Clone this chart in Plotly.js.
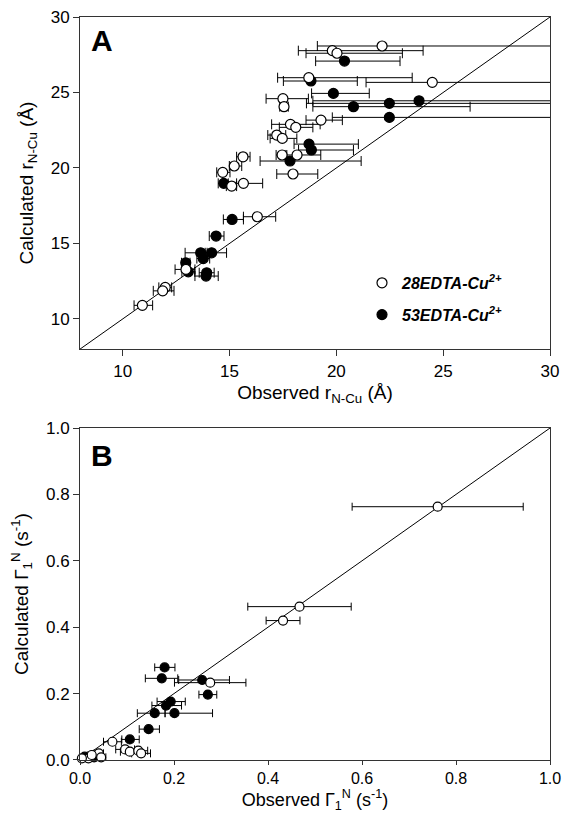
<!DOCTYPE html>
<html>
<head>
<meta charset="utf-8">
<script src="https://cdn.plot.ly/plotly-3.0.1.min.js"></script>
<style>html,body{margin:0;padding:0;background:#fff;}#chart{width:567px;height:813px;}</style>
</head>
<body>
<div id="chart"></div>
<script>
// ---------- Panel A: distances (Å) ----------
const aIdentity = [8, 30];
const aOpenX = [22.14, 19.81, 20.03, 18.71, 24.49, 17.50, 17.55, 19.28, 17.85, 18.10, 17.21, 17.47, 17.46, 18.16, 17.97, 15.63, 15.22, 14.68, 15.10, 15.65, 16.30, 12.96, 11.99, 11.87, 10.92];
const aOpenY = [28.08, 27.77, 27.60, 25.98, 25.67, 24.59, 24.06, 23.17, 22.89, 22.69, 22.18, 21.96, 20.86, 20.86, 19.60, 20.74, 20.13, 19.71, 18.80, 18.98, 16.77, 13.28, 12.09, 11.86, 10.90];
const aOpenErrMinus = [3.03, 1.59, 1.45, 1.46, 3.10, 0.79, 0.20, 0.70, 0.88, 0.77, 0.42, 0.57, 0.28, 0.56, 0.76, 0.30, 0.23, 0.28, 0.25, 0.32, 0.65, 0.51, 0.30, 0.44, 0.39];
const aOpenErrPlus  = [8.00, 4.25, 3.06, 4.84, 8.00, 1.19, 0.20, 1.00, 1.39, 0.80, 0.42, 0.68, 0.22, 1.11, 1.16, 0.33, 0.35, 0.34, 0.23, 0.90, 0.86, 0.42, 0.30, 0.53, 0.48];

const aFillX = [20.38, 18.81, 19.86, 23.87, 22.48, 20.80, 22.48, 18.72, 18.83, 17.83, 14.73, 15.12, 14.37, 13.65, 14.16, 13.77, 12.95, 13.07, 13.93, 13.90];
const aFillY = [27.08, 25.76, 24.94, 24.45, 24.28, 24.06, 23.35, 21.58, 21.19, 20.46, 18.98, 16.59, 15.49, 14.38, 14.38, 14.00, 13.72, 13.12, 13.06, 12.84];
const aFillErrMinus = [1.35, 1.29, 1.02, 4.97, 3.88, 1.90, 2.67, 0.70, 0.60, 1.40, 0.26, 0.41, 0.32, 0.73, 0.30, 0.30, 0.20, 0.30, 0.35, 0.52];
const aFillErrPlus  = [2.60, 2.17, 1.68, 8.00, 8.00, 5.46, 8.00, 2.31, 1.97, 3.33, 0.21, 0.53, 0.37, 0.30, 0.70, 0.30, 0.20, 0.30, 0.35, 0.57];

// ---------- Panel B: relaxation rates (s^-1) ----------
const bIdentity = [0, 1];
const bOpenX = [0.761, 0.467, 0.432, 0.277, 0.069, 0.096, 0.106, 0.124, 0.130, 0.040, 0.045, 0.018, 0.004, 0.025];
const bOpenY = [0.763, 0.462, 0.420, 0.233, 0.055, 0.032, 0.025, 0.028, 0.020, 0.020, 0.008, 0.005, 0.005, 0.015];
const bOpenErr = [0.182, 0.110, 0.036, 0.076, 0.019, 0.020, 0.020, 0.020, 0.020, 0.010, 0.010, 0.008, 0.005, 0.008];

const bFillX = [0.180, 0.174, 0.260, 0.272, 0.193, 0.183, 0.159, 0.201, 0.146, 0.106, 0.010, 0.030];
const bFillY = [0.279, 0.246, 0.241, 0.197, 0.176, 0.164, 0.141, 0.141, 0.093, 0.062, 0.010, 0.008];
const bFillErrMinus = [0.021, 0.035, 0.050, 0.019, 0.029, 0.030, 0.037, 0.020, 0.020, 0.017, 0.005, 0.006];
const bFillErrPlus  = [0.022, 0.034, 0.058, 0.019, 0.031, 0.033, 0.022, 0.081, 0.023, 0.020, 0.005, 0.006];

const seriesNames = ['<b><i>28EDTA-Cu<sup>2+</sup></i></b>', '<b><i>53EDTA-Cu<sup>2+</sup></i></b>'];

const FONT = 'Liberation Sans, Arial, sans-serif';
const openMarkerA = {symbol: 'circle', size: 10, color: '#ffffff', line: {color: '#000', width: 1.2}};
const fillMarkerA = {symbol: 'circle', size: 10, color: '#000000', line: {color: '#000', width: 1.2}};
const openMarkerB = {symbol: 'circle', size: 9, color: '#ffffff', line: {color: '#000', width: 1.2}};
const fillMarkerB = {symbol: 'circle', size: 9, color: '#000000', line: {color: '#000', width: 1.2}};
const errStyleA = {color: '#000', thickness: 1, width: 5};
const errStyleB = {color: '#000', thickness: 1, width: 4};

const traces = [
  {x: aIdentity, y: aIdentity, mode: 'lines', line: {color: '#000', width: 1}, showlegend: false, hoverinfo: 'skip', xaxis: 'x', yaxis: 'y'},
  {x: aFillX, y: aFillY, mode: 'markers', name: seriesNames[1], marker: fillMarkerA, legendgroup: 'g2', legendrank: 2,
   error_x: Object.assign({type: 'data', symmetric: false, array: aFillErrPlus, arrayminus: aFillErrMinus}, errStyleA), xaxis: 'x', yaxis: 'y'},
  {x: aOpenX, y: aOpenY, mode: 'markers', name: seriesNames[0], marker: openMarkerA, legendgroup: 'g1', legendrank: 1,
   error_x: Object.assign({type: 'data', symmetric: false, array: aOpenErrPlus, arrayminus: aOpenErrMinus}, errStyleA), xaxis: 'x', yaxis: 'y'},
  {x: bIdentity, y: bIdentity, mode: 'lines', line: {color: '#000', width: 1}, showlegend: false, hoverinfo: 'skip', xaxis: 'x2', yaxis: 'y2'},
  {x: bFillX, y: bFillY, mode: 'markers', name: seriesNames[1], marker: fillMarkerB, showlegend: false, cliponaxis: false,
   error_x: Object.assign({type: 'data', symmetric: false, array: bFillErrPlus, arrayminus: bFillErrMinus}, errStyleB), xaxis: 'x2', yaxis: 'y2'},
  {x: bOpenX, y: bOpenY, mode: 'markers', name: seriesNames[0], marker: openMarkerB, showlegend: false, cliponaxis: false,
   error_x: Object.assign({type: 'data', array: bOpenErr}, errStyleB), xaxis: 'x2', yaxis: 'y2'}
];

const axisBase = {
  showgrid: false, zeroline: false, showline: true, mirror: true, linecolor: '#333', linewidth: 1,
  ticks: 'outside', ticklen: 6, tickwidth: 1, tickcolor: '#333',
  tickfont: {family: FONT, size: 17, color: '#000'}
};
const titleFont = {family: FONT, size: 19, color: '#000'};

const layout = {
  width: 567, height: 813,
  margin: {l: 80, r: 17, t: 17, b: 53},
  paper_bgcolor: '#fff', plot_bgcolor: '#fff',
  showlegend: true,
  legend: {x: 0.6, y: 0.665, xanchor: 'left', yanchor: 'top', traceorder: 'grouped', tracegroupgap: 8,
           font: {family: FONT, size: 16, color: '#000'}, bgcolor: 'rgba(0,0,0,0)', borderwidth: 0},
  xaxis: Object.assign({}, axisBase, {domain: [0, 1], anchor: 'y', range: [8, 30], tickvals: [10, 15, 20, 25, 30],
    title: {text: 'Observed r<sub>N-Cu</sub> (Å)', font: titleFont, standoff: 6}}),
  yaxis: Object.assign({}, axisBase, {domain: [0.553, 1], anchor: 'x', range: [8, 30], tickvals: [10, 15, 20, 25, 30],
    title: {text: 'Calculated r<sub>N-Cu</sub> (Å)', font: titleFont, standoff: 12}}),
  xaxis2: Object.assign({}, axisBase, {domain: [0, 1], anchor: 'y2', range: [0, 1], tickvals: [0, 0.2, 0.4, 0.6, 0.8, 1.0], tickformat: '.1f',
    ticklen: 4, tickfont: {family: FONT, size: 16, color: '#000'},
    title: {text: 'Observed Γ<sub>1</sub><sup>N</sup> (s<sup>-1</sup>)', font: {family: FONT, size: 18, color: '#000'}, standoff: 4}}),
  yaxis2: Object.assign({}, axisBase, {domain: [0, 0.4468], anchor: 'x2', range: [0, 1], tickvals: [0, 0.2, 0.4, 0.6, 0.8, 1.0], tickformat: '.1f',
    title: {text: 'Calculated Γ<sub>1</sub><sup>N</sup> (s<sup>-1</sup>)', font: titleFont, standoff: 12}}),
  annotations: [
    {text: '<b>A</b>', xref: 'paper', yref: 'paper', x: 0.02, y: 0.993, xanchor: 'left', yanchor: 'top', showarrow: false,
     font: {family: FONT, size: 30, color: '#000'}},
    {text: '<b>B</b>', xref: 'paper', yref: 'paper', x: 0.02, y: 0.435, xanchor: 'left', yanchor: 'top', showarrow: false,
     font: {family: FONT, size: 30, color: '#000'}}
  ]
};

Plotly.newPlot('chart', traces, layout, {displayModeBar: false, staticPlot: true});
</script>
</body>
</html>
